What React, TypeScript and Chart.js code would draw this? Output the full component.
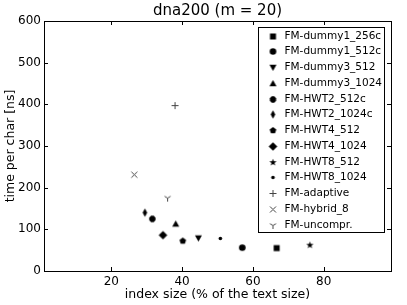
import React, { useEffect, useRef } from "react";
import { Chart, registerables } from "chart.js";

Chart.register(...registerables);

const FONT = "'DejaVu Sans', sans-serif";

const chartTitle = "dna200 (m = 20)";
const xAxisLabel = "index size (% of the text size)";
const yAxisLabel = "time per char [ns]";

const seriesLabels = [
  "FM-dummy1_256c",
  "FM-dummy1_512c",
  "FM-dummy3_512",
  "FM-dummy3_1024",
  "FM-HWT2_512c",
  "FM-HWT2_1024c",
  "FM-HWT4_512",
  "FM-HWT4_1024",
  "FM-HWT8_512",
  "FM-HWT8_1024",
  "FM-adaptive",
  "FM-hybrid_8",
  "FM-uncompr.",
];
const indexSizes = [66.7, 57.0, 44.6, 38.2, 31.6, 29.5, 40.2, 34.6, 76.1, 50.8, 38.0, 26.5, 35.9];
const timesPerChar = [55, 56, 79, 113, 125, 140, 72, 86, 62, 78, 397, 231, 175];
const markerKinds = [
  "square",
  "circle",
  "triDown",
  "triUp",
  "octagon",
  "thinDiamond",
  "pentagon",
  "diamond",
  "star",
  "point",
  "plus",
  "x",
  "tri1",
];
const xTickValues = [20, 40, 60, 80];
const yTickValues = [0, 100, 200, 300, 400, 500, 600];

const S = 15;

function makeMarker(kind: string): HTMLCanvasElement {
  const cv = document.createElement("canvas");
  cv.width = S;
  cv.height = S;
  const ctx = cv.getContext("2d")!;
  const c = S / 2;
  ctx.fillStyle = "#000";
  ctx.strokeStyle = "#000";
  const poly = (pts: number[][]) => {
    ctx.beginPath();
    pts.forEach((p, i) => (i ? ctx.lineTo(p[0], p[1]) : ctx.moveTo(p[0], p[1])));
    ctx.closePath();
    ctx.fill();
  };
  const regular = (n: number, r: number, rot: number) => {
    const pts: number[][] = [];
    for (let i = 0; i < n; i++) {
      const a = rot + (i * 2 * Math.PI) / n;
      pts.push([c + r * Math.cos(a), c + r * Math.sin(a)]);
    }
    poly(pts);
  };
  switch (kind) {
    case "square":
      ctx.fillRect(c - 3, c - 3, 6, 6);
      break;
    case "circle":
      ctx.beginPath();
      ctx.arc(c, c, 3.3, 0, Math.PI * 2);
      ctx.fill();
      break;
    case "triDown":
      poly([
        [c - 3.5, c - 2.7],
        [c + 3.5, c - 2.7],
        [c, c + 3.6],
      ]);
      break;
    case "triUp":
      poly([
        [c - 3.5, c + 2.7],
        [c + 3.5, c + 2.7],
        [c, c - 3.6],
      ]);
      break;
    case "octagon":
      regular(8, 3.4, Math.PI / 8);
      break;
    case "thinDiamond":
      poly([
        [c, c - 4.2],
        [c + 2.3, c],
        [c, c + 4.2],
        [c - 2.3, c],
      ]);
      break;
    case "pentagon":
      regular(5, 3.5, -Math.PI / 2);
      break;
    case "diamond":
      poly([
        [c, c - 4.3],
        [c + 4.3, c],
        [c, c + 4.3],
        [c - 4.3, c],
      ]);
      break;
    case "star": {
      const pts: number[][] = [];
      for (let i = 0; i < 10; i++) {
        const r = i % 2 === 0 ? 3.8 : 1.6;
        const a = -Math.PI / 2 + (i * Math.PI) / 5;
        pts.push([c + r * Math.cos(a), c + r * Math.sin(a)]);
      }
      poly(pts);
      break;
    }
    case "point":
      ctx.beginPath();
      ctx.arc(c, c, 1.8, 0, Math.PI * 2);
      ctx.fill();
      break;
    case "plus":
      ctx.strokeStyle = "#444";
      ctx.lineWidth = 1;
      ctx.beginPath();
      ctx.moveTo(c - 3.5, c);
      ctx.lineTo(c + 3.5, c);
      ctx.moveTo(c, c - 3.5);
      ctx.lineTo(c, c + 3.5);
      ctx.stroke();
      break;
    case "x":
      ctx.strokeStyle = "#444";
      ctx.lineWidth = 1;
      ctx.beginPath();
      ctx.moveTo(c - 3, c - 3);
      ctx.lineTo(c + 3, c + 3);
      ctx.moveTo(c + 3, c - 3);
      ctx.lineTo(c - 3, c + 3);
      ctx.stroke();
      break;
    case "tri1":
      ctx.strokeStyle = "#444";
      ctx.lineWidth = 1;
      ctx.beginPath();
      ctx.moveTo(c, c);
      ctx.lineTo(c, c + 3.5);
      ctx.moveTo(c, c);
      ctx.lineTo(c - 3, c - 1.8);
      ctx.moveTo(c, c);
      ctx.lineTo(c + 3, c - 1.8);
      ctx.stroke();
      break;
  }
  return cv;
}

export default function App() {
  const ref = useRef<HTMLCanvasElement | null>(null);

  useEffect(() => {
    if (!ref.current) return;
    const markers = markerKinds.map(makeMarker);

    const decor = {
      id: "decor",
      afterDraw(chart: any) {
        const { ctx, chartArea } = chart;
        const { left, right, top, bottom } = chartArea;
        const xs = chart.scales.x;
        const ys = chart.scales.y;
        ctx.save();
        ctx.strokeStyle = "#000";
        ctx.lineWidth = 1;
        // tick marks inward on all sides
        ctx.beginPath();
        xTickValues.forEach((v) => {
          const px = Math.round(xs.getPixelForValue(v)) + 0.5;
          ctx.moveTo(px, bottom);
          ctx.lineTo(px, bottom - 4);
          ctx.moveTo(px, top);
          ctx.lineTo(px, top + 4);
        });
        yTickValues.forEach((v) => {
          const py = Math.round(ys.getPixelForValue(v)) + 0.5;
          ctx.moveTo(left, py);
          ctx.lineTo(left + 4, py);
          ctx.moveTo(right, py);
          ctx.lineTo(right - 4, py);
        });
        ctx.stroke();
        // frame
        ctx.strokeRect(Math.round(left) + 0.5, Math.round(top) + 0.5, Math.round(right - left), Math.round(bottom - top));

        // title
        ctx.fillStyle = "#000";
        ctx.font = `15px ${FONT}`;
        ctx.textAlign = "center";
        ctx.textBaseline = "middle";
        ctx.fillText(chartTitle, (left + right) / 2, 11);

        // legend
        const bx = Math.round(right) - 132.5;
        const by = Math.round(top) + 6.5;
        const bw = 126;
        const bh = 205;
        ctx.fillStyle = "#fff";
        ctx.fillRect(bx, by, bw, bh);
        ctx.strokeStyle = "#000";
        ctx.strokeRect(bx, by, bw, bh);
        ctx.font = `10.5px ${FONT}`;
        ctx.textAlign = "left";
        ctx.textBaseline = "middle";
        ctx.fillStyle = "#000";
        seriesLabels.forEach((lab, i) => {
          const cy = by + 8 + i * 15.75;
          ctx.drawImage(markers[i], bx + 14.5 - S / 2, Math.round(cy) - S / 2 + 0.5);
          ctx.fillText(lab, bx + 26, cy + 0.5);
        });
        ctx.restore();
      },
    };

    const chart = new Chart(ref.current, {
      type: "scatter",
      data: {
        datasets: seriesLabels.map((label, i) => ({
          label,
          data: [{ x: indexSizes[i], y: timesPerChar[i] }],
          pointStyle: markers[i] as any,
          pointRadius: 6,
          backgroundColor: "#000",
          borderColor: "#000",
        })),
      },
      options: {
        responsive: false,
        animation: false,
        devicePixelRatio: 1,
        events: [],
        layout: { padding: { top: 21, right: 16, left: 0, bottom: 0 } },
        plugins: {
          legend: { display: false },
          title: { display: false },
          tooltip: { enabled: false },
        },
        scales: {
          x: {
            type: "linear",
            min: 1,
            max: 99,
            afterBuildTicks: (s: any) => {
              s.ticks = xTickValues.map((v) => ({ value: v }));
            },
            afterFit: (s: any) => {
              s.height = 34;
            },
            grid: { display: false, drawTicks: false },
            border: { display: false },
            ticks: {
              color: "#000",
              font: { family: FONT, size: 12 },
              padding: 4,
              maxRotation: 0,
              autoSkip: false,
            },
            title: {
              display: true,
              text: xAxisLabel,
              color: "#000",
              font: { family: FONT, size: 12.5 },
              padding: { top: 0, bottom: 3 },
            },
          },
          y: {
            type: "linear",
            min: 0,
            max: 600,
            afterBuildTicks: (s: any) => {
              s.ticks = yTickValues.map((v) => ({ value: v }));
            },
            afterFit: (s: any) => {
              s.width = 44;
            },
            grid: { display: false, drawTicks: false },
            border: { display: false },
            ticks: {
              color: "#000",
              font: { family: FONT, size: 12 },
              padding: 3,
              autoSkip: false,
            },
            title: {
              display: true,
              text: yAxisLabel,
              color: "#000",
              font: { family: FONT, size: 12.5 },
              padding: { top: 3, bottom: 0 },
            },
          },
        },
      },
      plugins: [decor],
    } as any);

    return () => chart.destroy();
  }, []);

  return (
    <div style={{ position: "absolute", left: 0, top: 0, width: 407, height: 305 }}>
      <canvas ref={ref} width={407} height={305} style={{ display: "block" }} />
    </div>
  );
}
